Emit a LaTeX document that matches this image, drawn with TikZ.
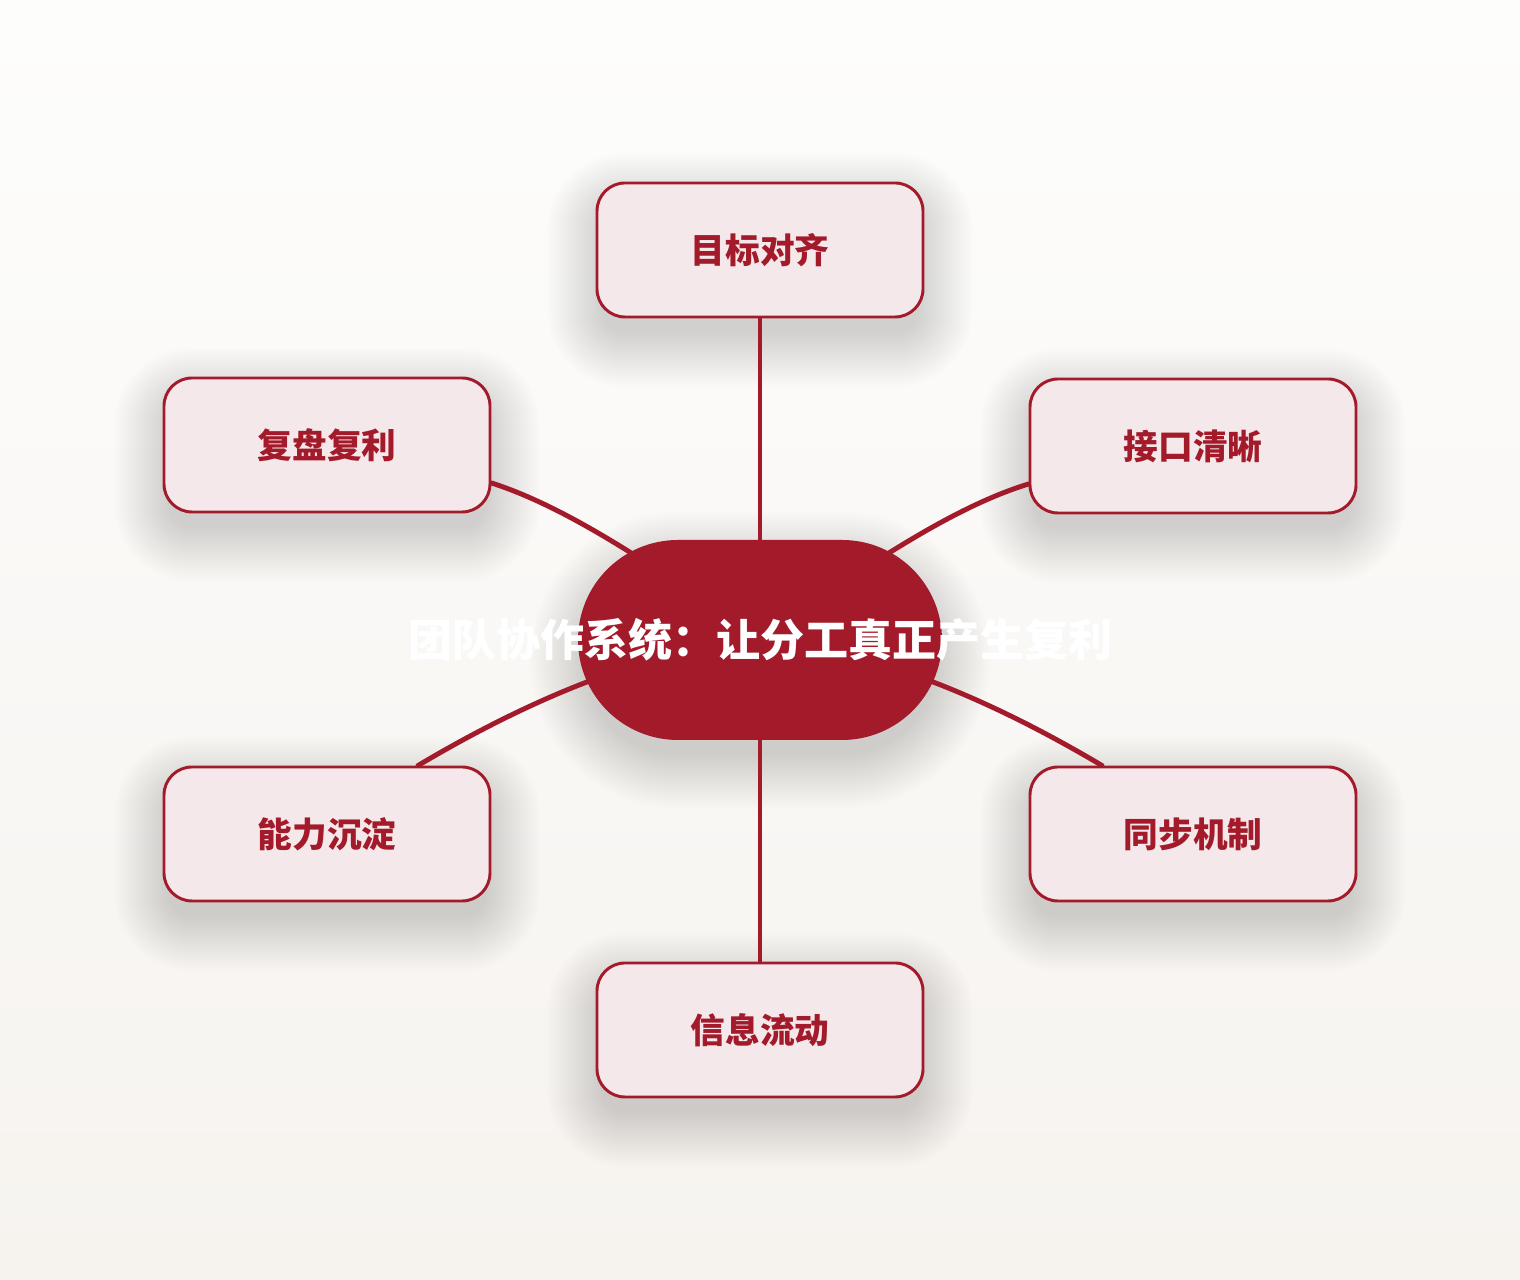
\documentclass[tikz,border=0pt]{standalone}
\usepackage{fontspec}
\newfontfamily\cjk{Noto Sans CJK SC}
\definecolor{dred}{HTML}{A31A2A}
\definecolor{pinkfill}{HTML}{F4E8EA}
\definecolor{bgtop}{HTML}{FDFDFC}
\definecolor{bgbot}{HTML}{F6F3EF}
\pgfdeclarelayer{bg}
\pgfdeclarelayer{shadowlayer}
\pgfdeclarelayer{edges}
\pgfsetlayers{bg,shadowlayer,edges,main}
\tikzset{
  sat/.style={draw=dred, line width=2.2pt, fill=pinkfill, rounded corners=21pt,
    minimum width=244.5pt, minimum height=100.5pt, text=dred,
    font=\cjk\bfseries\fontsize{26}{30}\selectfont},
  hub/.style={fill=dred, rounded corners=75pt, minimum width=273pt, minimum height=150pt,
    text=white, font=\cjk\bfseries\fontsize{33}{38}\selectfont},
  link/.style={draw=dred, line width=3.7pt, line cap=round},
  shadowpiece/.style={fill=black, opacity=0.0095}
}
\newcommand\softshadow[2]{%
  \foreach \k in {0,...,20}{%
    \pgfmathsetmacro\dd{2*\k-4}%
    \pgfmathsetmacro\rr{max(#2+2*\k-4,1)}%
    \fill[shadowpiece, rounded corners=\rr pt]
      ([shift={(-\dd pt,-15pt-\dd pt)}]#1.south west) rectangle
      ([shift={(\dd pt,-15pt+\dd pt)}]#1.north east);
  }}
\begin{document}
\begin{tikzpicture}[x=0.75pt,y=0.75pt]
\useasboundingbox (0,0) rectangle (1520,1280);
\begin{pgfonlayer}{bg}
\shade[top color=bgtop, bottom color=bgbot] (0,0) rectangle (1520,1280);
\end{pgfonlayer}

\node[hub] (c) at (760,640) {\makebox[0pt][c]{团队协作系统：让分工真正产生复利}};
\node[sat] (t)  at (760,1030) {\raisebox{-2pt}{目标对齐}};
\node[sat] (ul) at (327,835) {\raisebox{-2pt}{复盘复利}};
\node[sat] (ur) at (1193,834) {\raisebox{-2pt}{接口清晰}};
\node[sat] (ll) at (327,446) {\raisebox{-2pt}{能力沉淀}};
\node[sat] (lr) at (1193,446) {\raisebox{-2pt}{同步机制}};
\node[sat] (b)  at (760,250) {\raisebox{-2pt}{信息流动}};

\begin{pgfonlayer}{shadowlayer}
\softshadow{c}{75}
\softshadow{t}{21}
\softshadow{ul}{21}
\softshadow{ur}{21}
\softshadow{ll}{21}
\softshadow{lr}{21}
\softshadow{b}{21}
\end{pgfonlayer}

\begin{pgfonlayer}{edges}
\draw[link] (c.center) -- (t.center);
\draw[link] (c.center) -- (b.center);
\draw[link] (c.center) .. controls (640,725) and (560,775) .. ([yshift=-28.5pt]ul.east);
\draw[link] (c.center) .. controls (880,725) and (960,775) .. ([yshift=-28.5pt]ur.west);
\draw[link] (c.center) .. controls (640,630) and (520,575) .. ([xshift=68.25pt]ll.north);
\draw[link] (c.center) .. controls (880,630) and (1000,575) .. ([xshift=-68.25pt]lr.north);
\end{pgfonlayer}
\end{tikzpicture}
\end{document}
